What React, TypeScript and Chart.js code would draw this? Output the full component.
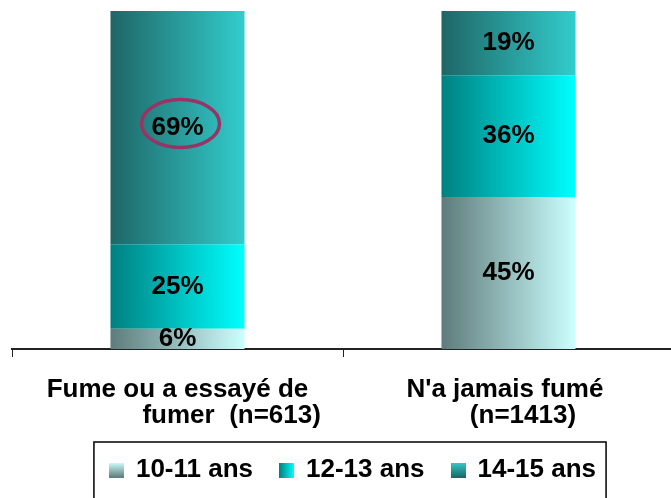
import React, { useEffect, useRef } from 'react';
import { Chart, registerables } from 'chart.js';

Chart.register(...registerables);

// ---- data ----
const categories: string[][] = [
  ['Fume ou a essayé de', '               fumer  (n=613)'],
  ["N'a jamais fumé ", '    (n=1413)'],
];
const seriesLabels = ['10-11 ans', '12-13 ans', '14-15 ans'];
const values1011 = [6, 45];
const values1213 = [25, 36];
const values1415 = [69, 19];
const highlighted = { series: 2, category: 0 };

// ---- styles ----
const FONT = "'Liberation Sans', Arial, Helvetica, sans-serif";
const BAR_PCT = 0.405;
const gradientStops = [
  ['#5f7b7b', '#ccffff'],
  ['#008080', '#00ffff'],
  ['#1f6666', '#33cccc'],
];
const markerVertical = [true, false, true];

function makeMarker(stops: string[], vertical: boolean) {
  const c = document.createElement('canvas');
  c.width = 15;
  c.height = 15;
  const g = c.getContext('2d')!;
  let gr: CanvasGradient;
  if (vertical) {
    gr = g.createLinearGradient(0, 0, 0, 15);
    gr.addColorStop(0, stops[1]);
    gr.addColorStop(1, stops[0]);
  } else {
    gr = g.createLinearGradient(0, 0, 15, 0);
    gr.addColorStop(0, stops[0]);
    gr.addColorStop(1, stops[1]);
  }
  g.fillStyle = gr;
  g.fillRect(0, 0, 15, 15);
  return c;
}

export default function App() {
  const ref = useRef<HTMLCanvasElement>(null);

  useEffect(() => {
    const canvas = ref.current!;
    const markers = gradientStops.map((s, i) => makeMarker(s, markerVertical[i]));
    const seriesValues = [values1011, values1213, values1415];

    const gradientFor = (i: number) => (ctx: any) => {
      const chart = ctx.chart;
      const xs = chart.scales && chart.scales.x;
      if (!xs || ctx.dataIndex == null || !chart.chartArea) return gradientStops[i][1];
      const cx = xs.getPixelForValue(ctx.dataIndex);
      const hw = ((xs.width / categories.length) * BAR_PCT) / 2;
      const g = chart.ctx.createLinearGradient(cx - hw, 0, cx + hw, 0);
      g.addColorStop(0, gradientStops[i][0]);
      g.addColorStop(1, gradientStops[i][1]);
      return g;
    };

    const legendShift = {
      id: 'legendShift',
      afterLayout(chart: any) {
        const lg = chart.legend;
        if (lg) {
          lg.left += 10;
          lg.right += 10;
        }
      },
    };

    const decorations = {
      id: 'decorations',
      afterDatasetsDraw(chart: any) {
        const ctx = chart.ctx;
        ctx.save();
        ctx.font = `bold 26px ${FONT}`;
        ctx.fillStyle = '#000';
        ctx.textAlign = 'center';
        ctx.textBaseline = 'middle';
        chart.data.datasets.forEach((ds: any, i: number) => {
          const meta = chart.getDatasetMeta(i);
          meta.data.forEach((bar: any, j: number) => {
            const { x, y, base } = bar.getProps(['x', 'y', 'base'], true);
            const cy = (y + base) / 2;
            ctx.fillText(`${ds.data[j]}%`, x, cy);
            if (i === highlighted.series && j === highlighted.category) {
              ctx.beginPath();
              ctx.ellipse(x + 3, cy - 4, 39, 24, 0, 0, Math.PI * 2);
              ctx.lineWidth = 3.5;
              ctx.strokeStyle = '#993366';
              ctx.stroke();
            }
          });
        });
        ctx.restore();
      },
      afterDraw(chart: any) {
        const lg = chart.legend;
        if (!lg || !lg.lineWidths) return;
        const pad = lg.options.labels.padding;
        const lw = lg.lineWidths[0];
        const startX = (lg.left + pad + lg.right - lw) / 2;
        const endX = startX + lw - pad;
        const ctx = chart.ctx;
        ctx.save();
        ctx.strokeStyle = '#000';
        ctx.lineWidth = 1.5;
        ctx.strokeRect(startX - 16, lg.top + 12, endX - startX + 26, chart.height);
        ctx.restore();
      },
    };

    const chart = new Chart(canvas, {
      type: 'bar',
      data: {
        labels: categories,
        datasets: seriesLabels.map((label, i) => ({
          label,
          data: seriesValues[i],
          backgroundColor: gradientFor(i),
          borderWidth: 0,
          barPercentage: BAR_PCT,
          categoryPercentage: 1,
        })),
      },
      options: {
        responsive: false,
        animation: false,
        devicePixelRatio: 1,
        layout: { padding: { left: 12, right: 2, top: 11, bottom: 5 } },
        plugins: {
          tooltip: { enabled: false },
          legend: {
            position: 'bottom',
            labels: {
              usePointStyle: true,
              boxWidth: 13,
              boxHeight: 15,
              padding: 27,
              color: '#000',
              font: { family: FONT, size: 26, weight: 'bold' },
              generateLabels: (ch: any) =>
                ch.data.datasets.map((ds: any, i: number) => ({
                  text: ds.label,
                  pointStyle: markers[i],
                  fillStyle: gradientStops[i][1],
                  strokeStyle: 'rgba(0,0,0,0)',
                  lineWidth: 0,
                  hidden: false,
                  datasetIndex: i,
                  fontColor: '#000',
                })),
            },
          },
        },
        scales: {
          x: {
            stacked: true,
            grid: {
              display: true,
              offset: true,
              drawOnChartArea: false,
              tickLength: 8,
              color: '#222',
              lineWidth: 1,
            },
            border: { display: true, color: '#222', width: 2 },
            ticks: {
              color: '#000',
              padding: 20,
              maxRotation: 0,
              autoSkip: false,
              font: { family: FONT, size: 26, weight: 'bold', lineHeight: 1.0 },
            },
            afterFit: (scale: any) => {
              scale.height = 81;
            },
          },
          y: {
            stacked: true,
            display: false,
            min: 0,
            max: 100,
          },
        },
      },
      plugins: [legendShift, decorations],
    } as any);

    return () => chart.destroy();
  }, []);

  return (
    <div
      style={{
        position: 'fixed',
        left: 0,
        top: 0,
        width: 671,
        height: 498,
        overflow: 'hidden',
        background: '#fff',
      }}
    >
      <canvas ref={ref} width={676} height={498} style={{ display: 'block', width: 676, height: 498 }} />
    </div>
  );
}
